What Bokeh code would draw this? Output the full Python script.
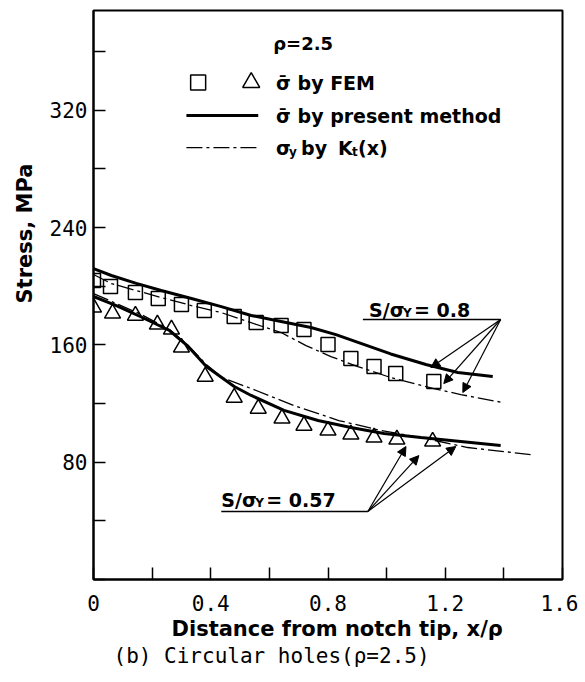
import math
from bokeh.plotting import figure
from bokeh.models import (Range1d, FixedTicker, Label, Arrow, NormalHead,
                          CustomJSTickFormatter, Title)
from bokeh.embed import file_html
from bokeh.resources import INLINE

# ---------------- data ----------------
# FEM, S/sigmaY = 0.8 (squares)
sq_x = [0.0, 0.058, 0.143, 0.221, 0.300, 0.378, 0.480, 0.555, 0.640, 0.718,
        0.800, 0.878, 0.957, 1.031, 1.161]
sq_y = [203.9, 199.8, 195.7, 191.6, 187.5, 183.4, 179.3, 175.2, 173.2, 170.5,
        160.2, 150.7, 145.2, 140.5, 135.0]

# FEM, S/sigmaY = 0.57 (triangles)
tri_x = [0.0, 0.065, 0.143, 0.218, 0.266, 0.300, 0.381, 0.480, 0.562, 0.643,
         0.718, 0.800, 0.878, 0.957, 1.035, 1.157]
tri_y = [185.5, 181.4, 180.0, 173.9, 170.5, 158.2, 138.4, 124.1, 116.6, 109.8,
         105.0, 101.6, 98.9, 96.9, 95.5, 94.1]

# present method, S/sigmaY = 0.8
pm08_x = [0.0, 0.061, 0.146, 0.231, 0.334, 0.436, 0.538, 0.640, 0.742, 0.827,
          0.912, 1.014, 1.134, 1.243, 1.362]
pm08_y = [212.0, 207.3, 201.9, 197.1, 191.6, 186.1, 180.0, 175.9, 171.8, 167.0,
          161.0, 153.8, 146.6, 141.1, 138.4]

# sigma_y by Kt(x), S/sigmaY = 0.8
kt08_x = [0.0, 0.061, 0.146, 0.231, 0.334, 0.436, 0.555, 0.640, 0.725, 0.810,
          0.902, 1.014, 1.161, 1.253, 1.396]
kt08_y = [208.0, 201.8, 197.0, 192.3, 186.8, 182.0, 173.9, 168.4, 159.5, 152.0,
          145.2, 137.7, 130.2, 126.1, 120.7]

# present method, S/sigmaY = 0.57
pm057_x = [0.0, 0.078, 0.163, 0.259, 0.323, 0.385, 0.480, 0.538, 0.650, 0.766,
           0.878, 0.991, 1.117, 1.253, 1.389]
pm057_y = [193.0, 186.8, 179.0, 169.8, 158.9, 145.2, 131.6, 125.5, 115.3, 108.4,
           103.7, 99.5, 96.8, 94.1, 91.4]

# sigma_y by Kt(x), S/sigmaY = 0.57
kt057_x = [0.0, 0.078, 0.163, 0.259, 0.323, 0.385, 0.439, 0.538, 0.684, 0.837,
           0.980, 1.117, 1.277, 1.491]
kt057_y = [195.0, 188.2, 180.7, 170.5, 159.5, 146.6, 137.7, 130.2, 118.6, 108.4,
           101.6, 96.8, 90.0, 85.2]

x_ticks = [0.0, 0.2, 0.4, 0.6, 0.8, 1.0, 1.2, 1.4, 1.6]
y_ticks = [0, 40, 80, 120, 160, 200, 240, 280, 320, 360]

# ---------------- figure ----------------
BOLD = "DejaVu Sans"
MONO = "DejaVu Sans Mono"

p = figure(width=578, height=674, x_range=Range1d(0, 1.6), y_range=Range1d(0, 388),
           output_backend="svg", toolbar_location=None,
           min_border_left=92, min_border_right=16, min_border_top=10,
           min_border_bottom=95)
p.background_fill_color = "white"
p.border_fill_color = "white"
p.grid.visible = False
p.outline_line_color = "black"
p.outline_line_width = 2
p.outline_line_alpha = 1

for ax in (p.xaxis[0], p.yaxis[0]):
    ax.axis_line_width = 2
    ax.axis_line_color = "black"
    ax.major_tick_in = 12
    ax.major_tick_out = 0
    ax.major_tick_line_width = 1.5
    ax.minor_tick_line_color = None
    ax.major_label_text_font = MONO
    ax.major_label_text_font_size = "21px"
    ax.major_label_text_color = "black"

p.xaxis.ticker = FixedTicker(ticks=x_ticks)
p.yaxis.ticker = FixedTicker(ticks=y_ticks)
p.xaxis.formatter = CustomJSTickFormatter(code="""
    const r = Math.round(tick * 10) / 10;
    if (Math.abs(r / 0.4 - Math.round(r / 0.4)) < 1e-6) { return r == 0 ? '0' : r.toFixed(1); }
    return '';
""")
p.yaxis.formatter = CustomJSTickFormatter(code="""
    const r = Math.round(tick);
    return (r > 0 && r % 80 == 0) ? String(r) : '';
""")
p.xaxis.major_label_standoff = 15
p.yaxis.major_label_standoff = 6

# ---------------- curves and points ----------------
DASHDOT = "16 4 3 4"
p.line(kt08_x, kt08_y, line_color="black", line_width=1.3, line_dash=DASHDOT)
p.line(kt057_x, kt057_y, line_color="black", line_width=1.3, line_dash=DASHDOT)
p.line(pm08_x, pm08_y, line_color="black", line_width=3)
p.line(pm057_x, pm057_y, line_color="black", line_width=3)
p.scatter(sq_x, sq_y, marker="square", size=14, line_color="black",
          line_width=1.5, fill_color=None)
p.scatter(tri_x, tri_y, marker="triangle", size=16, line_color="black",
          line_width=1.5, fill_color=None)


def lab(x, y, text, size="19px", font=BOLD, style="bold", dx=0, dy=0,
        align="left", angle=0.0):
    p.add_layout(Label(x=x, y=y, x_offset=dx, y_offset=dy, text=text,
                       text_font=font, text_font_style=style,
                       text_font_size=size, text_color="black",
                       text_align=align, text_baseline="middle", angle=angle))


# ---------------- legend ----------------
LEG_X = 0.623
LEG_ROWS = [338.9, 316.4, 294.5]
lab(0.613, 365.4, "ρ=2.5", size="18px")
p.scatter([0.357], [LEG_ROWS[0]], marker="square", size=15, line_color="black",
          line_width=1.5, fill_color=None)
p.scatter([0.538], [LEG_ROWS[0]], marker="triangle", size=17, line_color="black",
          line_width=1.5, fill_color=None)
lab(LEG_X, LEG_ROWS[0], "σ̄ by FEM")
p.line([0.317, 0.562], [LEG_ROWS[1]] * 2, line_color="black", line_width=3)
lab(LEG_X, LEG_ROWS[1], "σ̄ by present method")
p.line([0.317, 0.562], [LEG_ROWS[2]] * 2, line_color="black", line_width=1.3,
       line_dash=DASHDOT)
lab(LEG_X, LEG_ROWS[2], "σ")
lab(LEG_X, LEG_ROWS[2], "y", size="12px", dx=13, dy=-4)
lab(LEG_X, LEG_ROWS[2], "by", dx=25)
lab(LEG_X, LEG_ROWS[2], "K", dx=62)
lab(LEG_X, LEG_ROWS[2], "t", size="12px", dx=76, dy=-4)
lab(LEG_X, LEG_ROWS[2], "(x)", dx=82)

# ---------------- annotations ----------------
def ratio_label(x, y, value):
    lab(x, y, "S/σ", size="19px")
    lab(x, y, "Y", size="12px", dx=34, dy=-3)
    lab(x, y, "= " + value, size="19px", dx=45)


ratio_label(0.94, 184.1, "0.8")
p.line([0.919, 1.389], [177.3, 177.3], line_color="black", line_width=1.5)
for xe, ye in [(1.151, 144.5), (1.195, 133.6), (1.26, 127.5)]:
    p.add_layout(Arrow(end=NormalHead(size=9, fill_color="black", line_color="black"),
                       x_start=1.389, y_start=177.3, x_end=xe, y_end=ye,
                       line_width=1.2, line_color="black"))

ratio_label(0.436, 53.9, "0.57")
p.line([0.436, 0.936], [46.4, 46.4], line_color="black", line_width=1.5)
for xe, ye in [(1.066, 90.7), (1.11, 84.5), (1.236, 90.7)]:
    p.add_layout(Arrow(end=NormalHead(size=9, fill_color="black", line_color="black"),
                       x_start=0.936, y_start=46.4, x_end=xe, y_end=ye,
                       line_width=1.2, line_color="black"))

# ---------------- axis titles & caption ----------------
p.add_layout(Title(text="Stress, MPa", align="left", offset=276, standoff=20,
                   text_font=BOLD, text_font_style="bold", text_font_size="21px",
                   text_color="black"),
             "left")
p.add_layout(Title(text="Distance from notch tip, x/ρ", align="left", offset=78,
                   standoff=2, text_font=BOLD, text_font_style="bold",
                   text_font_size="21px", text_color="black"), "below")
p.add_layout(Title(text="(b) Circular holes(ρ=2.5)", align="left", offset=20,
                   standoff=0, text_font=MONO, text_font_style="normal",
                   text_font_size="21px", text_color="black"), "below")

open("out.html", "w").write(file_html(p, INLINE))
